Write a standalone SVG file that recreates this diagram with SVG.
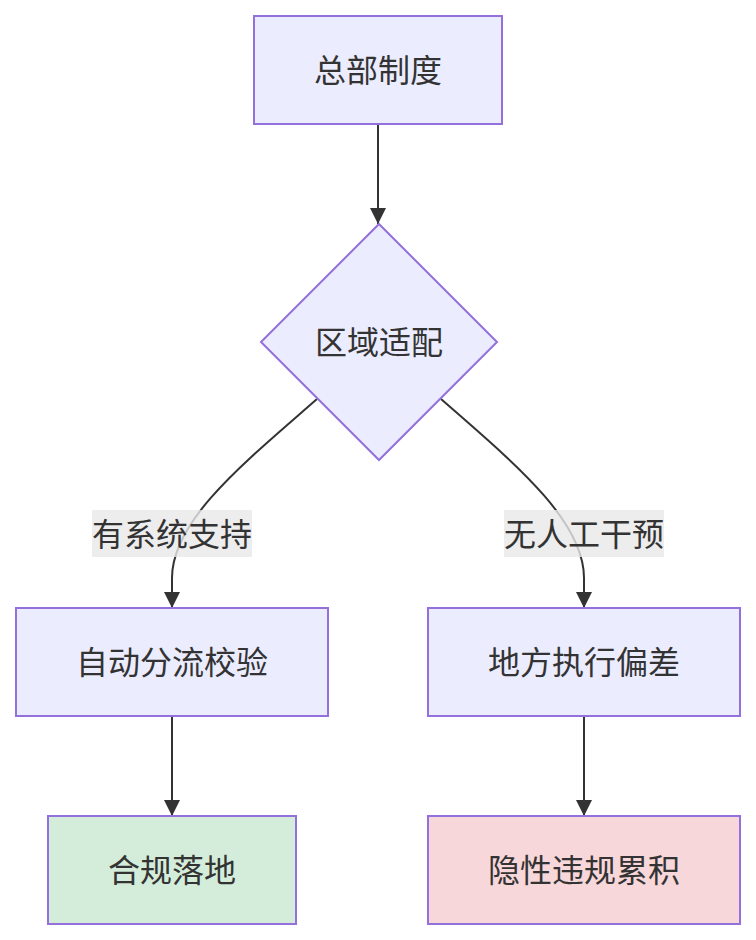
<svg xmlns="http://www.w3.org/2000/svg" width="756" height="940" viewBox="0 0 756 940">
<style>
.node{fill:#ECECFF;stroke:#9370DB;stroke-width:2}
.ok{fill:#D4EDDA}
.bad{fill:#F8D7DA}
.t{font-family:"Noto Sans CJK SC","Liberation Sans",sans-serif;font-size:32px;fill:#333;text-anchor:middle;dominant-baseline:central}
.edge{fill:none;stroke:#333;stroke-width:2}
.lbl{fill:#e8e8e8;fill-opacity:0.8}
</style>
<defs>
<marker id="arr" markerWidth="16" markerHeight="16" viewBox="0 0 16 16" refX="16" refY="8" orient="auto" markerUnits="userSpaceOnUse">
<path d="M0,0 L16,8 L0,16 Z" fill="#333"/>
</marker>
</defs>
<rect width="756" height="940" fill="#fff"/>
<g id="edges">
<path class="edge" d="M378,124 L378,224" marker-end="url(#arr)"/>
<path class="edge" d="M317,399 C245,462 172,520 172,578 L172,608" marker-end="url(#arr)"/>
<path class="edge" d="M441,399 C513,462 584,520 584,578 L584,608" marker-end="url(#arr)"/>
<path class="edge" d="M172,716 L172,816" marker-end="url(#arr)"/>
<path class="edge" d="M584,716 L584,816" marker-end="url(#arr)"/>
</g>
<g id="label-yes">
<rect class="lbl" x="92" y="510" width="160" height="47"/>
<text class="t" x="172" y="532">有系统支持</text>
</g>
<g id="label-no">
<rect class="lbl" x="504" y="510" width="160" height="47"/>
<text class="t" x="584" y="532">无人工干预</text>
</g>
<g id="n-hq">
<rect class="node" x="254" y="16" width="248" height="108"/>
<text class="t" x="378" y="68">总部制度</text>
</g>
<g id="n-adapt">
<polygon class="node" points="379,224 497,342 379,460 261,342"/>
<text class="t" x="379" y="340">区域适配</text>
</g>
<g id="n-auto">
<rect class="node" x="16" y="608" width="312" height="108"/>
<text class="t" x="172" y="660">自动分流校验</text>
</g>
<g id="n-dev">
<rect class="node" x="428" y="608" width="312" height="108"/>
<text class="t" x="584" y="660">地方执行偏差</text>
</g>
<g id="n-ok">
<rect class="node ok" x="48" y="816" width="248" height="108"/>
<text class="t" x="172" y="868">合规落地</text>
</g>
<g id="n-bad">
<rect class="node bad" x="428" y="816" width="312" height="108"/>
<text class="t" x="584" y="868">隐性违规累积</text>
</g>
</svg>
